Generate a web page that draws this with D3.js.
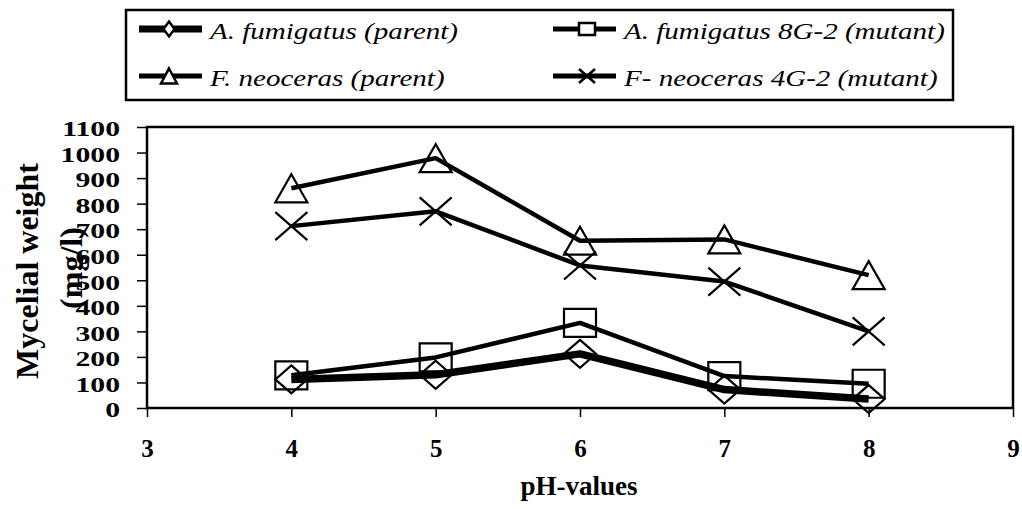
<!DOCTYPE html>
<html>
<head>
<meta charset="utf-8">
<script src="https://cdn.jsdelivr.net/npm/d3@7"></script>
<style>
  body { margin: 0; background: #fff; }
  svg text { font-family: "Liberation Serif", "Times New Roman", serif; fill: #000; }
</style>
</head>
<body>
<svg width="1022" height="509"></svg>
<script>
const phValues = [4, 5, 6, 7, 8];
const afParent = [112, 130, 212, 72, 35];
const afMutant = [128, 198, 333, 125, 95];
const fnParent = [860, 978, 655, 660, 520];
const fnMutant = [712, 770, 558, 495, 300];
const seriesNames = [
  "A. fumigatus (parent)",
  "A. fumigatus 8G-2 (mutant)",
  "F. neoceras (parent)",
  "F- neoceras 4G-2 (mutant)"
];
const xTicks = [3, 4, 5, 6, 7, 8, 9];
const yTicks = d3.range(0, 1101, 100);

const svg = d3.select("svg");
const margin = { left: 147, right: 9, top: 127, bottom: 101 };
const width = 1022 - margin.left - margin.right;
const height = 509 - margin.top - margin.bottom;

const x = d3.scaleLinear().domain([3, 9]).range([margin.left, margin.left + width]);
const y = d3.scaleLinear().domain([0, 1100]).range([margin.top + height, margin.top]);

const series = [
  { name: seriesNames[0], values: afParent, marker: "diamond", lw: 7.5, llw: 7 },
  { name: seriesNames[1], values: afMutant, marker: "square", lw: 4.5, llw: 5 },
  { name: seriesNames[2], values: fnParent, marker: "triangle", lw: 4.5, llw: 5 },
  { name: seriesNames[3], values: fnMutant, marker: "cross", lw: 4.5, llw: 5 }
];

function markerPath(type, w, h) {
  const a = w / 2, b = h / 2;
  if (type === "diamond") return `M0,${-b}L${a},0L0,${b}L${-a},0Z`;
  if (type === "square") return `M${-a},${-b}H${a}V${b}H${-a}Z`;
  if (type === "triangle") return `M0,${-b}L${a},${b}H${-a}Z`;
  return `M${-a},${-b}L${a},${b}M${-a},${b}L${a},${-b}`;
}

// plot frame
svg.append("rect")
  .attr("x", margin.left).attr("y", margin.top)
  .attr("width", width).attr("height", height)
  .attr("fill", "none").attr("stroke", "#000").attr("stroke-width", 2.5);

// axes
const yAxis = svg.append("g")
  .attr("transform", `translate(${margin.left},0)`)
  .call(d3.axisLeft(y).tickValues(yTicks).tickSize(10).tickPadding(0).tickFormat(d3.format("d")));
yAxis.select(".domain").remove();
yAxis.selectAll("line").attr("stroke", "#000").attr("stroke-width", 1.5);
yAxis.selectAll("text")
  .attr("font-size", 22).attr("font-weight", "bold")
  .attr("x", null).attr("dy", "0.4em")
  .attr("transform", "translate(-27,0) scale(1.35,1)");

const xAxis = svg.append("g")
  .attr("transform", `translate(0,${margin.top + height})`)
  .call(d3.axisBottom(x).tickValues(xTicks).tickSize(9).tickPadding(22).tickFormat(d3.format("d")));
xAxis.select(".domain").remove();
xAxis.selectAll("line").attr("stroke", "#000").attr("stroke-width", 1.5);
xAxis.selectAll("text")
  .attr("font-size", 25).attr("font-weight", "bold");

// axis titles
svg.append("text")
  .attr("x", 579).attr("y", 495)
  .attr("text-anchor", "middle")
  .attr("font-size", 27).attr("font-weight", "bold")
  .text("pH-values");

svg.append("text")
  .attr("transform", "translate(38,271) rotate(-90)")
  .attr("text-anchor", "middle")
  .attr("font-size", 32).attr("font-weight", "bold")
  .text("Mycelial weight");
svg.append("text")
  .attr("transform", "translate(82,268) rotate(-90)")
  .attr("text-anchor", "middle")
  .attr("font-size", 32).attr("font-weight", "bold")
  .text("(mg/l)");

// lines
const line = d3.line().x((d, i) => x(phValues[i])).y(d => y(d));
svg.selectAll(".series")
  .data(series)
  .join("path")
  .attr("class", "series")
  .attr("d", d => line(d.values))
  .attr("fill", "none")
  .attr("stroke", "#000")
  .attr("stroke-width", d => d.lw)
  .attr("stroke-linejoin", "round");

// markers
series.forEach(s => {
  svg.selectAll(null)
    .data(s.values)
    .join("path")
    .attr("transform", (d, i) => `translate(${x(phValues[i])},${y(d)})`)
    .attr("d", markerPath(s.marker, 32, 28))
    .attr("fill", "none")
    .attr("stroke", "#000")
    .attr("stroke-width", 2.2);
});

// legend
const legend = svg.append("g");
legend.append("rect")
  .attr("x", 126).attr("y", 10).attr("width", 827).attr("height", 90)
  .attr("fill", "#fff").attr("stroke", "#000").attr("stroke-width", 2.5);

const legPos = [[139, 29], [553, 29], [139, 76], [553, 76]];
const legMarker = { diamond: [11, 15], square: [16, 12], triangle: [16, 15], cross: [16, 14] };
series.forEach((s, i) => {
  const [lx, ly] = legPos[i];
  const g = legend.append("g").attr("transform", `translate(${lx},${ly})`);
  g.append("line").attr("x1", 0).attr("x2", 63)
    .attr("stroke", "#000").attr("stroke-width", s.llw);
  const [mw, mh] = legMarker[s.marker];
  g.append("path").attr("transform", `translate(${i % 2 ? 34 : 30},0)`)
    .attr("d", markerPath(s.marker, mw, mh))
    .attr("fill", s.marker === "cross" ? "none" : "#fff")
    .attr("stroke", "#000").attr("stroke-width", 2.5);
  g.append("text")
    .attr("transform", "translate(71,10) scale(1.21,1)")
    .attr("font-size", 24).attr("font-style", "italic")
    .text(s.name);
});
</script>
</body>
</html>
